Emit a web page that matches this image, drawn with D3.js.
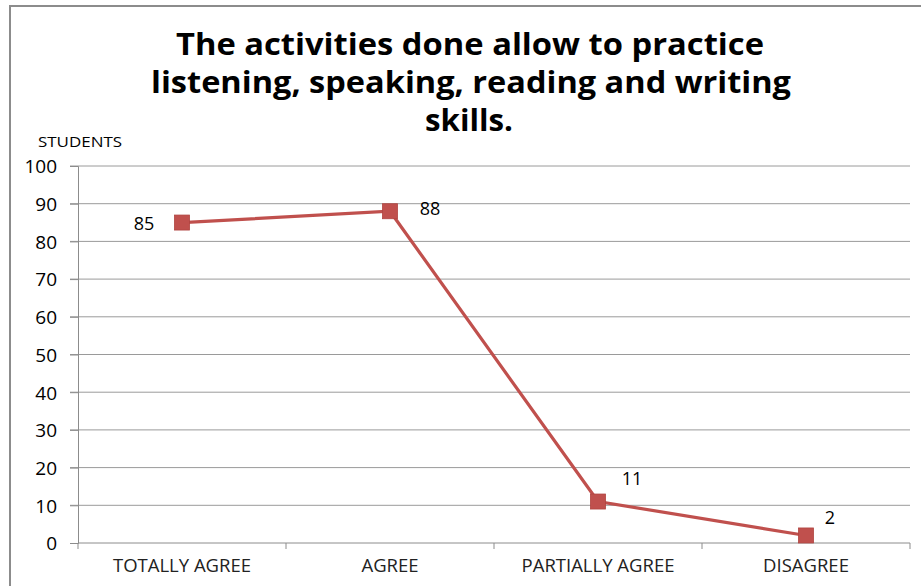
<!DOCTYPE html>
<html><head><meta charset="utf-8">
<script src="https://cdn.jsdelivr.net/npm/d3@7"></script>
<style>body{margin:0;background:#fff}svg{display:block}text{font-family:"Open Sans",sans-serif;font-variant-ligatures:none}</style>
</head><body><svg id="c" width="921" height="586"></svg>
<script>
const categories = ["TOTALLY AGREE","AGREE","PARTIALLY AGREE","DISAGREE"];
const values = [85, 88, 11, 2];
const yTicks = [0,10,20,30,40,50,60,70,80,90,100];
const titleLines = ["The activities done allow to practice","listening, speaking, reading and writing","skills."];
const yAxisTitle = "STUDENTS";
// label placement (dx, dy, anchor) relative to the point
const labelPos = [[-38,7,"middle"],[40,4,"middle"],[34,-17,"middle"],[24,-11,"middle"]];

(function(){
const svg = d3.select("#c");
svg.append("path").attr("d","M10,586V6H921").attr("fill","none").attr("stroke","#8c8c8c").attr("stroke-width",2);

const pl=78, pr=910, pt=166, pb=543;
const x = d3.scaleBand().domain(categories).range([pl,pr]);
const y = d3.scaleLinear().domain([0,100]).range([pb,pt]);

svg.append("g").selectAll("line").data(yTicks.filter(d=>d>0)).join("line")
  .attr("x1",pl-8).attr("x2",pr).attr("y1",d=>y(d)).attr("y2",d=>y(d))
  .attr("stroke","#9a9a9a").attr("stroke-width",1);

const ya = svg.append("g").attr("transform",`translate(${pl},0)`)
  .call(d3.axisLeft(y).tickValues(yTicks).tickSize(8).tickPadding(13));
ya.select(".domain").attr("stroke","#8c8c8c");
ya.selectAll(".tick line").attr("stroke","#8c8c8c");
ya.selectAll("text").attr("font-size",19).attr("fill","#000").attr("dy","0.36em");

const xa = svg.append("g").attr("transform",`translate(0,${pb})`)
  .call(d3.axisBottom(x).tickSize(0).tickPadding(16));
xa.select(".domain").attr("stroke","#8c8c8c").attr("d",`M${pl},0H${pr}`);
xa.selectAll("text").attr("font-size",18.5).attr("fill","#222");
const bounds = [pl, ...categories.map(c=>x(c)+x.bandwidth())];
svg.append("g").selectAll("line").data(bounds).join("line")
  .attr("x1",d=>d).attr("x2",d=>d).attr("y1",pb).attr("y2",pb+6)
  .attr("stroke","#8c8c8c");

svg.append("text").attr("x",38).attr("y",147).attr("font-size",15).attr("fill","#000")
  .attr("textLength",84).attr("lengthAdjust","spacingAndGlyphs").text(yAxisTitle);

const tl = [[470,55,588],[471,93,640],[469,131,88]];
svg.append("g").selectAll("text").data(titleLines).join("text")
  .attr("x",(d,i)=>tl[i][0]).attr("y",(d,i)=>tl[i][1]).attr("text-anchor","middle")
  .attr("font-family","Lato, sans-serif")
  .attr("font-size",31).attr("font-weight","bold").attr("fill","#000")
  .attr("textLength",(d,i)=>tl[i][2]).attr("lengthAdjust","spacingAndGlyphs").text(d=>d);

const cx = c=>x(c)+x.bandwidth()/2;
svg.append("path").datum(values)
  .attr("d",d3.line().x((d,i)=>cx(categories[i])).y(d=>y(d)))
  .attr("fill","none").attr("stroke","#C0504D").attr("stroke-width",3.2);
const ms=15;
svg.append("g").selectAll("rect").data(values).join("rect")
  .attr("x",(d,i)=>cx(categories[i])-ms/2).attr("y",d=>y(d)-ms/2)
  .attr("width",ms).attr("height",ms).attr("fill","#C0504D").attr("stroke","#B04440").attr("stroke-width",0.8);

svg.append("g").selectAll("text").data(values).join("text")
  .attr("x",(d,i)=>cx(categories[i])+labelPos[i][0]).attr("y",(d,i)=>y(d)+labelPos[i][1])
  .attr("text-anchor",(d,i)=>labelPos[i][2]).attr("font-size",18).attr("fill","#000").text(d=>d);
})();
</script></body></html>
